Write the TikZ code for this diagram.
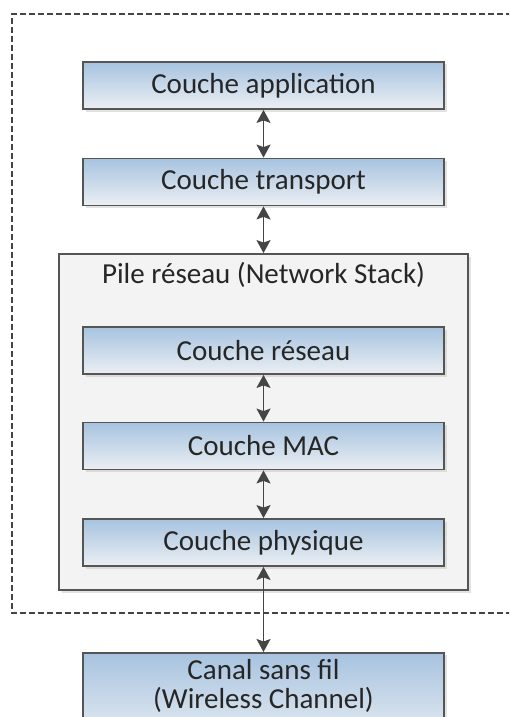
\documentclass[tikz,border=0pt]{standalone}
\usepackage{fontspec}
\setmainfont{Carlito}
\usetikzlibrary{arrows.meta,shadows}
\definecolor{boxtop}{HTML}{A7C3E0}
\definecolor{boxbot}{HTML}{EBEFF3}
\definecolor{edge}{HTML}{555555}
\definecolor{ink}{HTML}{454545}
\definecolor{stackfill}{HTML}{F3F3F3}
\tikzset{
  lbl/.style={font=\fontsize{29}{29}\selectfont, text=black!85},
  layer/.style={lbl, draw=edge, line width=1.8pt, top color=boxtop, bottom color=boxbot,
    minimum width=361pt, minimum height=47pt, inner sep=0pt,
    drop shadow={shadow xshift=2.5pt, shadow yshift=-2.5pt, fill=black!25, opacity=0.45}},
  link/.style={draw=ink, line width=1.8pt,
    {Stealth[length=13pt,width=14pt,inset=2.5pt]}-{Stealth[length=13pt,width=14pt,inset=2.5pt]}},
}
\begin{document}
\begin{tikzpicture}[x=1pt,y=-1pt]
  \useasboundingbox (0,0) rectangle (509,717);
  \clip (0,0) rectangle (509,717);
  % outer dashed frame
  \draw[ink, line width=1.2pt, dash pattern=on 6pt off 3pt] (530,14) -- (12,14) -- (12,613) -- (530,613);
  % network stack container
  \node (stack) [draw=edge, line width=1.8pt, fill=stackfill, minimum width=409pt, minimum height=336pt,
    drop shadow={shadow xshift=2.5pt, shadow yshift=-2.5pt, fill=black!25, opacity=0.45}] at (263.5,422) {};
  \node (stacklbl) [lbl] at (263.5,275) {Pile réseau (Network Stack)};
  % layers
  \node (app) [layer] at (263.5,85.5) {Couche application};
  \node (trans) [layer] at (263.5,182) {Couche transport};
  \node (net) [layer] at (263.5,350.5) {Couche réseau};
  \node (mac) [layer] at (263.5,446) {Couche MAC};
  \node (phy) [layer] at (263.5,542.5) {Couche physique};
  \node (chan) [layer, anchor=north, minimum height=0pt, inner ysep=6pt, align=center]
    at (263.5,652) {Canal sans fil\\(Wireless Channel)\\[4pt]};
  % connectors
  \draw[link] (app.south) -- (trans.north);
  \draw[link] (trans.south) -- (stack.north);
  \draw[link] (net.south) -- (mac.north);
  \draw[link] (mac.south) -- (phy.north);
  \draw[link] (phy.south) -- (chan.north);
\end{tikzpicture}
\end{document}
